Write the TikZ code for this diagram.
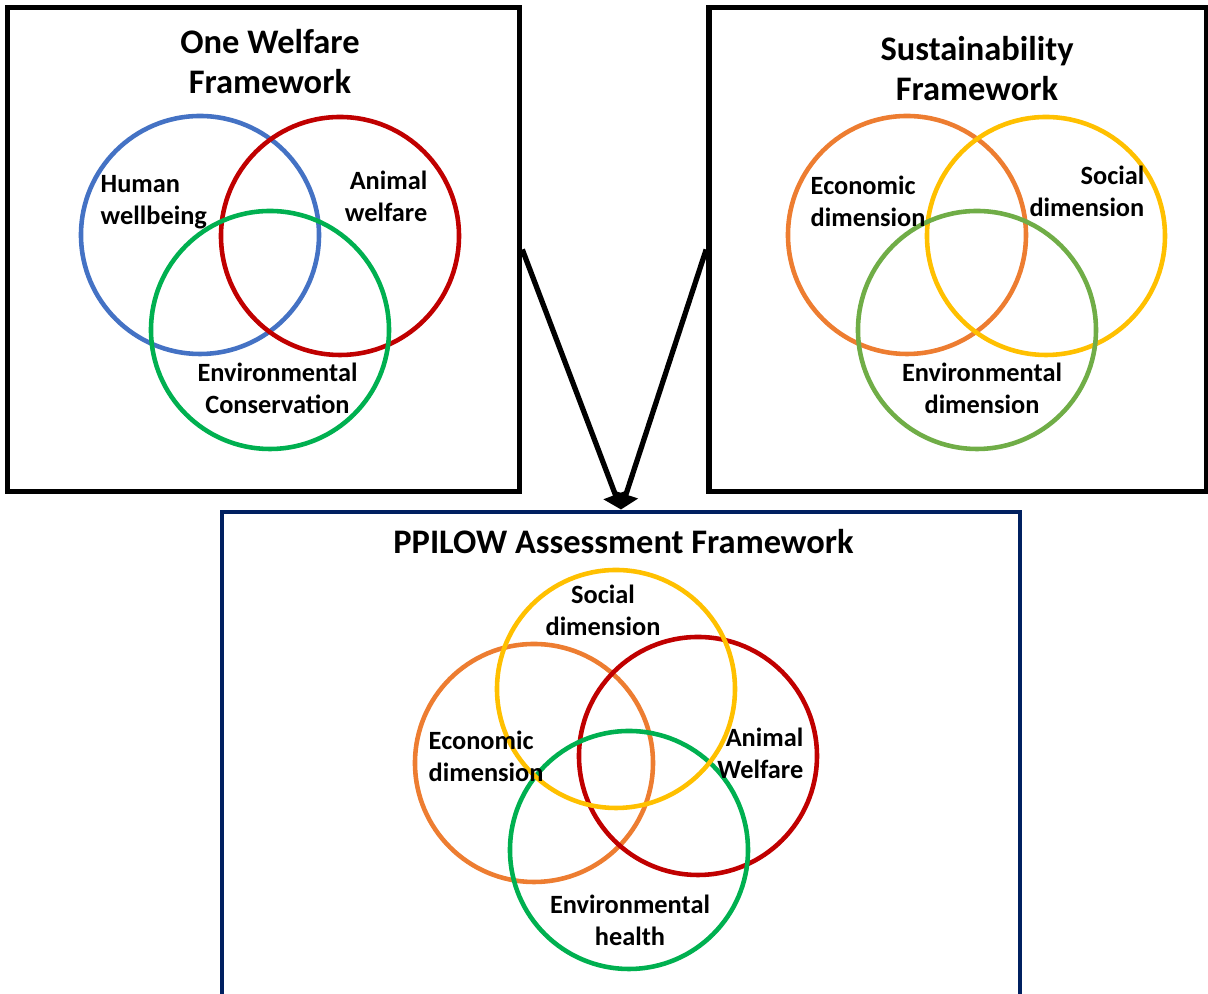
\documentclass[tikz,border=0pt]{standalone}
\usepackage{fontspec}
\setmainfont{Carlito}
\usetikzlibrary{arrows.meta}
\definecolor{hblue}{HTML}{4472C4}
\definecolor{ared}{HTML}{C00000}
\definecolor{egreen}{HTML}{00B050}
\definecolor{sgreen}{HTML}{70AD47}
\definecolor{eorange}{HTML}{ED7D31}
\definecolor{syellow}{HTML}{FFC000}
\definecolor{pnavy}{HTML}{002060}
\tikzset{
  frame/.style={draw, line width=1.6pt, inner sep=0pt},
  ring/.style={circle, draw, line width=1.3pt, minimum size=2.38cm, inner sep=0pt},
  lbl/.style={font=\bfseries\fontsize{7.5}{9.1}\selectfont, inner sep=0pt},
  ttl/.style={font=\bfseries\fontsize{9.8}{11.4}\selectfont, align=center, inner sep=0pt}
}
\begin{document}
\begin{tikzpicture}
  \clip (0,0) rectangle (12.08,-9.94);
  \useasboundingbox (0,0) rectangle (12.08,-9.94);

  % One Welfare
  \node (owf)[frame, minimum width=5.12cm, minimum height=4.84cm] at (2.635,-2.495) {};
  \node (owft)[ttl] at (2.70,-0.62) {One Welfare\\Framework};
  \node (hw)[ring, draw=hblue] at (2.00,-2.35) {};
  \node (aw)[ring, draw=ared] at (3.40,-2.36) {};
  \node (ec)[ring, draw=egreen] at (2.70,-3.30) {};
  \node (hwl)[lbl, align=left, anchor=west] at (1.00,-2.02) {Human\\wellbeing};
  \node (awl)[lbl, align=right, anchor=east] at (4.28,-1.96) {Animal\\welfare};
  \node (ecl)[lbl, align=center] at (2.775,-3.885) {Environmental\\Conservation};

  % Sustainability
  \node (sf)[frame, minimum width=4.98cm, minimum height=4.84cm] at (9.58,-2.495) {};
  \node (sft)[ttl] at (9.77,-0.69) {Sustainability\\Framework};
  \node (sec)[ring, draw=eorange] at (9.07,-2.35) {};
  \node (sso)[ring, draw=syellow] at (10.46,-2.36) {};
  \node (sen)[ring, draw=sgreen] at (9.77,-3.30) {};
  \node (secl)[lbl, align=left, anchor=west] at (8.10,-2.015) {Economic\\dimension};
  \node (ssol)[lbl, align=right, anchor=east] at (11.45,-1.91) {Social\\dimension};
  \node (senl)[lbl, align=center] at (9.82,-3.88) {Environmental\\dimension};

  % PPILOW
  \node (pp)[frame, draw=pnavy, line width=1.4pt, minimum width=7.98cm, minimum height=4.93cm] at (6.21,-7.585) {};
  \node (ppt)[ttl] at (6.235,-5.42) {PPILOW Assessment Framework};
  \node (pec)[ring, draw=eorange] at (5.34,-7.63) {};
  \node (paw)[ring, draw=ared] at (6.98,-7.56) {};
  \node (peh)[ring, draw=egreen] at (6.29,-8.50) {};
  \node (pso)[ring, draw=syellow] at (6.16,-6.89) {};
  \node (psol)[lbl, align=center] at (6.03,-6.105) {Social\\dimension};
  \node (pecl)[lbl, align=left, anchor=west] at (4.28,-7.56) {Economic\\dimension};
  \node (pawl)[lbl, align=right, anchor=east] at (8.04,-7.53) {Animal\\Welfare};
  \node (pehl)[lbl, align=center] at (6.30,-9.20) {Environmental\\health};

  % arrows
  \draw[line width=1.5pt, -{Triangle[width=7pt,length=4.5pt]}] (owf.east) -- (pp.north);
  \draw[line width=1.5pt, -{Triangle[width=7pt,length=4.5pt]}] (sf.west) -- (pp.north);
\end{tikzpicture}
\end{document}
